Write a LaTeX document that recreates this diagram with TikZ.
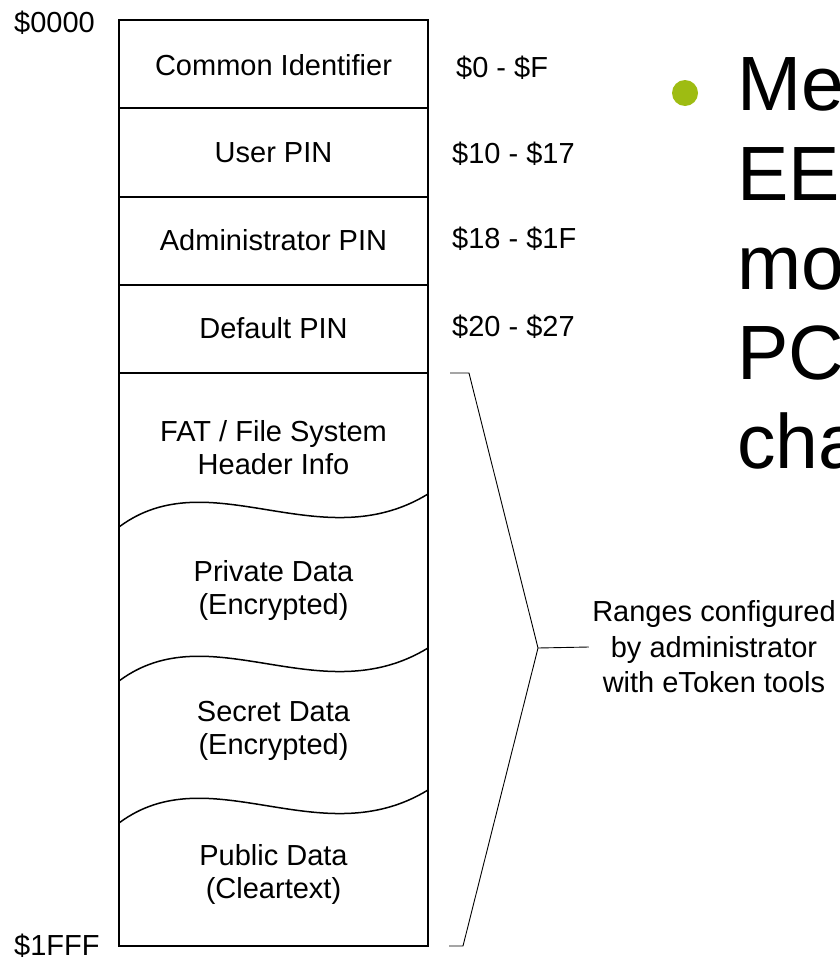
\documentclass[tikz,border=0pt]{standalone}
\usepackage{fontspec}
\setmainfont{Liberation Sans}
\definecolor{bulletgreen}{RGB}{158,188,18}
\begin{document}
\begin{tikzpicture}[x=1pt,y=-1pt,
  boxline/.style={line width=1.8pt, draw=black},
  waveline/.style={line width=1.5pt},
  braceline/.style={line width=0.9pt},
  celltext/.style={font=\fontsize{29}{33}\selectfont, align=center, inner sep=0pt},
  rowtext/.style={font=\fontsize{29}{33}\selectfont, inner sep=0pt, anchor=base},
  addr/.style={font=\fontsize{29}{33}\selectfont, inner sep=0pt, anchor=base west},
  notetext/.style={font=\fontsize{29}{35.5}\selectfont, align=center},
  bigtext/.style={font=\fontsize{77}{89.5}\selectfont, align=left, inner sep=0pt, anchor=west}
]
\useasboundingbox (0,0) rectangle (840,961);

% memory box
\draw[boxline] (119,20) rectangle (428,946);
\draw[boxline] (119,108) -- (428,108);
\draw[boxline] (119,197) -- (428,197);
\draw[boxline] (119,285) -- (428,285);
\draw[boxline] (119,373) -- (428,373);

% wavy separators
\draw[waveline] (119,527) .. controls (210,459) and (320,560) .. (428,494);
\draw[waveline] (119,681) .. controls (210,613) and (320,714) .. (428,648);
\draw[waveline] (119,823) .. controls (210,755) and (320,856) .. (428,790);

% section texts
\node[rowtext] (common) at (273.5,75) {Common Identifier};
\node[rowtext] (user) at (273.5,162) {User PIN};
\node[rowtext] (admin) at (273.5,250) {Administrator PIN};
\node[rowtext] (default) at (273.5,338) {Default PIN};
\node[celltext] (fat) at (273.5,448) {FAT / File System\\Header Info};
\node[celltext] (private) at (273.5,590) {Private Data\\(Encrypted)};
\node[celltext] (secret) at (273.5,731) {Secret Data\\(Encrypted)};
\node[celltext] (public) at (273.5,874) {Public Data\\(Cleartext)};

% addresses
\node[addr] (a0) at (14,32) {\$0000};
\node[addr] (a1) at (14,955) {\$1FFF};
\node[addr] (r0) at (456,77) {\$0 - \$F};
\node[addr] (r1) at (452,163) {\$10 - \$17};
\node[addr] (r2) at (452,248) {\$18 - \$1F};
\node[addr] (r3) at (452,336) {\$20 - \$27};

% brace
\coordinate (bt0) at (450,373);
\coordinate (bt1) at (469,373);
\coordinate (tip) at (538,648);
\coordinate (bb1) at (463,946);
\coordinate (bb0) at (449,946);
\draw[braceline] (bt0) -- (bt1) -- (tip) -- (bb1) -- (bb0);
\node[notetext] (ranges) at (714,647) {Ranges configured\\by administrator\\with eToken tools};
\draw[braceline] (tip) -- (ranges.west);

% bullet text (clipped at the right edge)
\node[circle, fill=bulletgreen, minimum size=26pt, inner sep=0pt] (dot) at (685,93) {};
\begin{scope}
\clip (0,0) rectangle (840,961);
\node[bigtext] (bullet) at (737,263.5) {Me\\EE\\mo\\PC\\cha};
\end{scope}
\end{tikzpicture}
\end{document}
